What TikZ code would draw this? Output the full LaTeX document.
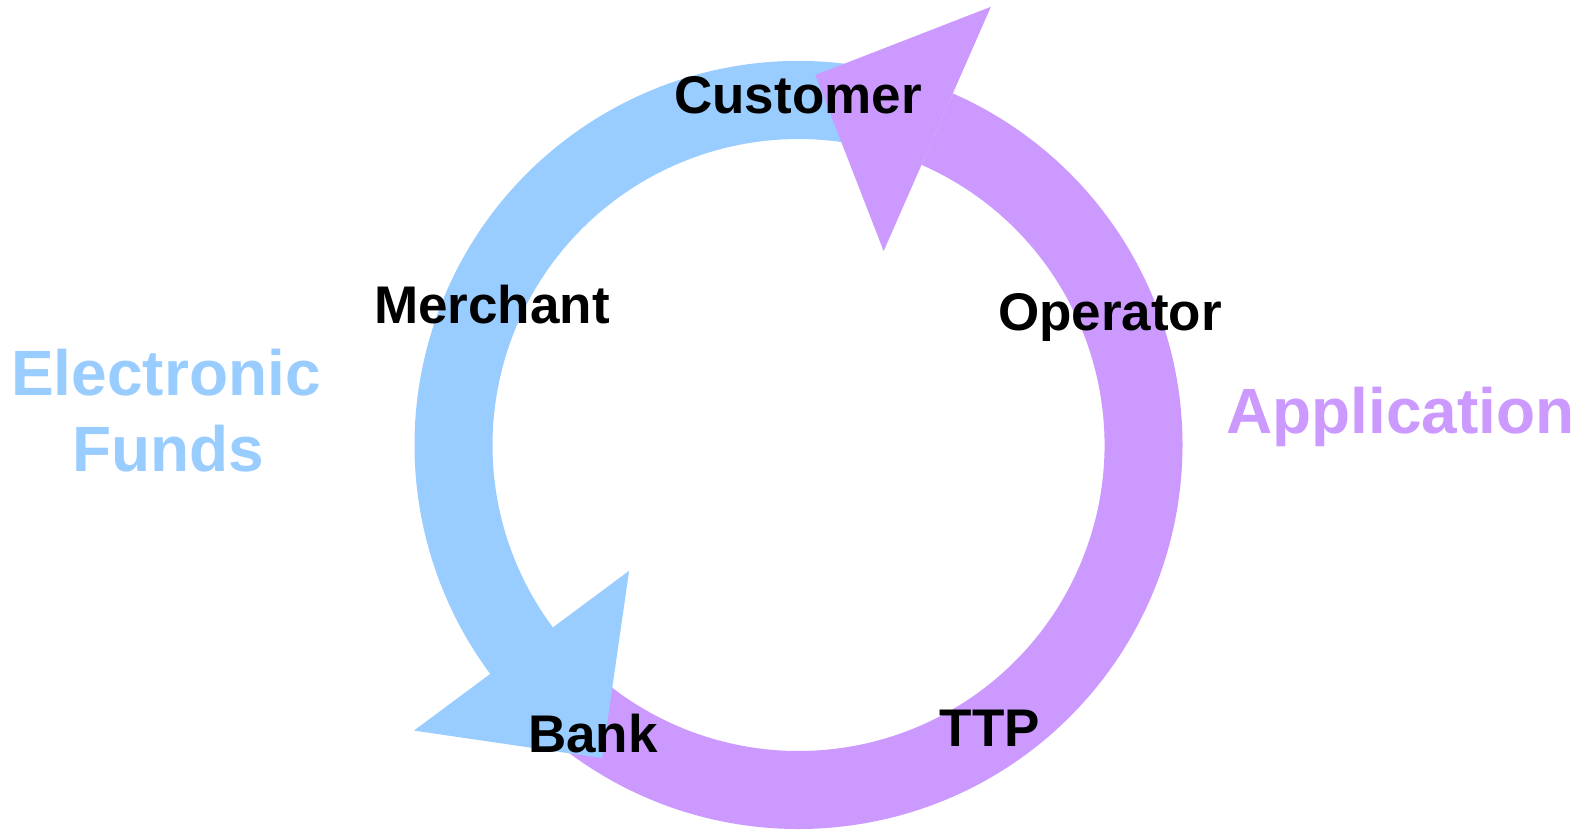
\documentclass[tikz,border=0pt]{standalone}
\usepackage{fontspec}
\setmainfont{Liberation Sans}
\definecolor{fundsblue}{HTML}{99CCFF}
\definecolor{apppurple}{HTML}{CC99FF}
\tikzset{
  role/.style={anchor=base, inner sep=0pt, text=black,
    font=\fontsize{53}{63}\selectfont\bfseries},
  cyclelabel/.style={anchor=base, inner sep=0pt,
    font=\fontsize{64}{77}\selectfont\bfseries},
}
\begin{document}
\begin{tikzpicture}[x=1pt, y=-1pt]
  \useasboundingbox (0,0) rectangle (1589,832);
  \fill[white] (0,0) rectangle (1589,832);

  \begin{scope}[shift={(798.5,445)}, y={(0pt,1pt)}]
    % purple band (Application), body only
    \fill[apppurple] (230:384) arc[start angle=230, end angle=426.3, radius=384]
      -- (426.3:306) arc[start angle=426.3, end angle=230, radius=306] -- cycle;
    % blue band with its head (Electronic Funds)
    \fill[fundsblue] (75:384) arc[start angle=75, end angle=216.6, radius=384]
      -- (216.6:479) -- (237.9:369.6) -- (216.6:211)
      -- (216.6:306) arc[start angle=216.6, end angle=75, radius=306] -- cycle;
    % purple head on top of the blue band
    \fill[apppurple] (426.3:384) -- (426.3:478.6) -- (447.4:370.4)
      -- (426.3:211.8) -- (426.3:306) -- cycle;
  \end{scope}

  \node[role] (customer) at (798,113.3) {Customer};
  \node[role] (merchant) at (492,323.3) {Merchant};
  \node[role] (operator) at (1110,330) {Operator};
  \node[role] (bank) at (593,752) {Bank};
  \node[role] (ttp) at (990,746.7) {TTP};

  \node[cyclelabel, text=fundsblue] (electronic) at (166,395) {Electronic};
  \node[cyclelabel, text=fundsblue] (funds) at (168,471.7) {Funds};
  \node[cyclelabel, text=apppurple] (application) at (1400.5,433) {Application};
\end{tikzpicture}
\end{document}
